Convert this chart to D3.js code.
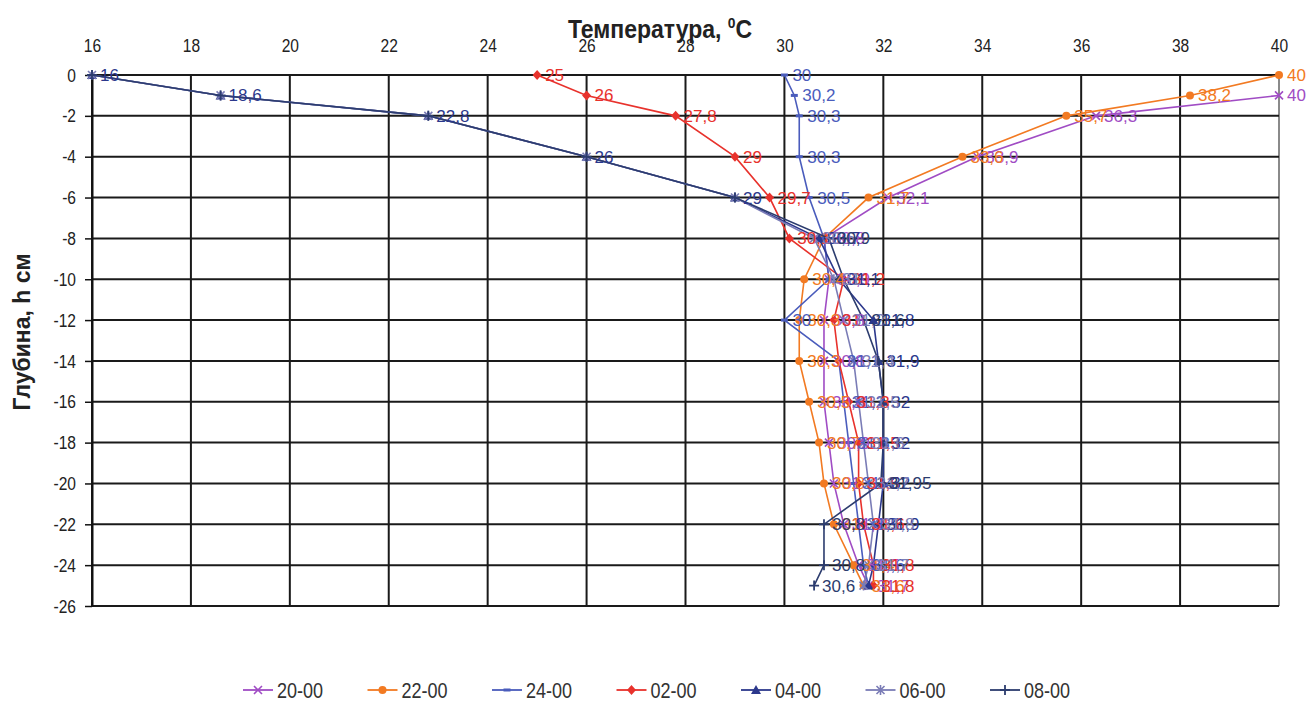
<!DOCTYPE html>
<html><head><meta charset="utf-8">
<script src="https://cdn.jsdelivr.net/npm/d3@7"></script>
<style>body{margin:0;background:#fff}svg{display:block}</style>
</head><body><svg id="c" width="1311" height="701"></svg>
<script>
// ---- data ----
const depths = [0, -1, -2, -4, -6, -8, -10, -12, -14, -16, -18, -20, -22, -24, -25];
const s2000 = [null, 40, 36.3, 33.9, 32.1, 30.8, 30.9, 30.8, 30.8, 30.8, 30.9, 31.0, 31.2, 31.5, 31.7];
const s2200 = [40, 38.2, 35.7, 33.6, 31.7, 30.8, 30.4, 30.3, 30.3, 30.5, 30.7, 30.8, 31.0, 31.4, 31.6];
const s2400 = [30, 30.2, 30.3, 30.3, 30.5, 30.8, 30.9, 30.0, 31.1, 31.2, 31.3, 31.4, 31.5, 31.6, 31.7];
const s0200 = [25, 26, 27.8, 29, 29.7, 30.1, 31.2, 31.0, 31.1, 31.3, 31.5, 31.5, 31.6, 31.8, 31.8];
const s0400 = [16, 18.6, 22.8, 26, 29, 30.7, 31.1, 31.8, 31.9, 32.0, 32.0, 32.0, 31.9, 31.8, 31.7];
const s0600 = [16, 18.6, 22.8, 26, 29, 30.6, 31.0, 31.2, 31.4, 31.5, 31.6, 31.7, 31.8, 31.7, 31.6];
const s0800 = [16, 18.6, 22.8, 26, 29, 30.9, 31.2, 31.6, 31.9, 32.0, 32.0, 31.95, 30.8, 30.8, 30.6];
const seriesNames = ["20-00", "22-00", "24-00", "02-00", "04-00", "06-00", "08-00"];
const xTicks = [16, 18, 20, 22, 24, 26, 28, 30, 32, 34, 36, 38, 40];
const yTicks = [0, -2, -4, -6, -8, -10, -12, -14, -16, -18, -20, -22, -24, -26];
const xTitle = "Температура, ";
const yTitle = "Глубина, h см";

const seriesValues = [s2000, s2200, s2400, s0200, s0400, s0600, s0800];
const colors = ["#a04cc4", "#f27a22", "#4a5cbc", "#e8322c", "#2c388c", "#7a7cb6", "#2c3c6e"];
const markers = ["x", "circle", "dash", "diamond", "triangle", "asterisk", "plus"];

const svg = d3.select("#c");
svg.append("rect").attr("width", 1311).attr("height", 701).attr("fill", "#fff");
const x = d3.scaleLinear().domain([16, 40]).range([92, 1279]);
const y = d3.scaleLinear().domain([0, -26]).range([75, 606]);
const NARROW = 0.82;
const FONT = "'Liberation Sans', Arial, sans-serif";

// grid
const grid = svg.append("g");
grid.selectAll("line.v").data(xTicks).join("line")
  .attr("x1", d => x(d)).attr("x2", d => x(d)).attr("y1", y(0)).attr("y2", y(-26))
  .attr("stroke", d => d === 40 ? "#8a8a8a" : "#1a1a1a").attr("stroke-width", 2);
grid.selectAll("line.h").data(yTicks).join("line")
  .attr("x1", x(16)).attr("x2", x(40)).attr("y1", d => y(d)).attr("y2", d => y(d))
  .attr("stroke", "#1a1a1a").attr("stroke-width", 2);

// axes
const gx = svg.append("g").attr("transform", `translate(0,${y(0)})`)
  .call(d3.axisTop(x).tickValues(xTicks).tickSize(0).tickPadding(23).tickFormat(d => String(d)));
gx.select(".domain").remove();
gx.selectAll("text").attr("font-size", 19).attr("font-family", FONT).attr("fill", "#222")
  .attr("transform", `scale(${NARROW},1)`);

const gy = svg.append("g").attr("transform", `translate(${x(16)},0)`)
  .call(d3.axisLeft(y).tickValues(yTicks).tickSize(7).tickSizeOuter(0).tickPadding(7).tickFormat(d => String(d)));
gy.select(".domain").attr("stroke", "#111").attr("stroke-width", 2);
gy.selectAll(".tick line").attr("stroke", "#111").attr("stroke-width", 1.5);
gy.selectAll("text").attr("font-size", 19).attr("font-family", FONT).attr("fill", "#222")
  .attr("x", -16 / NARROW).attr("transform", `scale(${NARROW},1)`);

// titles
const tt = svg.append("text").attr("transform", "translate(660,38) scale(0.92,1)").attr("text-anchor", "middle")
  .attr("font-family", FONT).attr("font-weight", "bold").attr("font-size", 25).attr("fill", "#222");
tt.append("tspan").text(xTitle);
tt.append("tspan").attr("font-size", 15).attr("dy", -10).text("0");
tt.append("tspan").attr("dy", 10).text("C");

svg.append("text").attr("transform", "translate(30,332) rotate(-90)").attr("text-anchor", "middle")
  .attr("font-family", FONT).attr("font-weight", "bold").attr("font-size", 23).attr("fill", "#222")
  .text(yTitle);

// marker drawing
function drawMarker(g, type, cx, cy, color) {
  if (type === "circle") {
    g.append("circle").attr("cx", cx).attr("cy", cy).attr("r", 4).attr("fill", color);
  } else if (type === "diamond") {
    g.append("path").attr("d", `M${cx},${cy - 5}L${cx + 4.5},${cy}L${cx},${cy + 5}L${cx - 4.5},${cy}Z`).attr("fill", color);
  } else if (type === "triangle") {
    g.append("path").attr("d", `M${cx},${cy - 5}L${cx + 5},${cy + 4}L${cx - 5},${cy + 4}Z`).attr("fill", color);
  } else if (type === "dash") {
    g.append("rect").attr("x", cx - 3.5).attr("y", cy - 1.5).attr("width", 7).attr("height", 3).attr("fill", color);
  } else if (type === "x") {
    g.append("path").attr("d", `M${cx - 4},${cy - 4}L${cx + 4},${cy + 4}M${cx - 4},${cy + 4}L${cx + 4},${cy - 4}`)
      .attr("stroke", color).attr("stroke-width", 1.6);
  } else if (type === "asterisk") {
    g.append("path").attr("d", `M${cx - 4},${cy - 4}L${cx + 4},${cy + 4}M${cx - 4},${cy + 4}L${cx + 4},${cy - 4}M${cx},${cy - 5}L${cx},${cy + 5}`)
      .attr("stroke", color).attr("stroke-width", 1.6);
  } else if (type === "plus") {
    g.append("path").attr("d", `M${cx - 5},${cy}L${cx + 5},${cy}M${cx},${cy - 5}L${cx},${cy + 5}`)
      .attr("stroke", color).attr("stroke-width", 1.8);
  }
}

const line = d3.line().defined(d => d.v != null).x(d => x(d.v)).y(d => y(d.h));
const allPts = [];
seriesValues.forEach((vals, i) => {
  const pts = depths.map((h, j) => ({ h, v: vals[j] }));
  const g = svg.append("g");
  g.append("path").datum(pts).attr("d", line).attr("fill", "none")
    .attr("stroke", colors[i]).attr("stroke-width", 1.6);
  pts.filter(p => p.v != null).forEach(p => {
    drawMarker(g, markers[i], x(p.v), y(p.h), colors[i]);
    allPts.push({ ...p, i });
  });
});

// data labels (identical coincident labels drawn once)
const lab = svg.append("g");
const seen = new Set();
allPts.forEach(p => {
  const key = p.h + "|" + p.v;
  if (seen.has(key)) return;
  seen.add(key);
  lab.append("text").attr("x", x(p.v) + 8).attr("y", y(p.h) + 6)
    .attr("font-family", FONT).attr("font-size", 17).attr("fill", colors[p.i])
    .text(String(p.v).replace(".", ","));
});

// legend
const leg = svg.append("g");
seriesNames.forEach((n, i) => {
  const x0 = 243 + i * 124.5, ly = 690;
  leg.append("line").attr("x1", x0).attr("x2", x0 + 30).attr("y1", ly).attr("y2", ly)
    .attr("stroke", colors[i]).attr("stroke-width", 1.8);
  drawMarker(leg, markers[i], x0 + 15, ly, colors[i]);
  leg.append("text").attr("transform", `translate(${x0 + 34},${ly + 8}) scale(${NARROW},1)`)
    .attr("font-family", FONT).attr("font-size", 22).attr("fill", "#333").text(n);
});
</script></body></html>
